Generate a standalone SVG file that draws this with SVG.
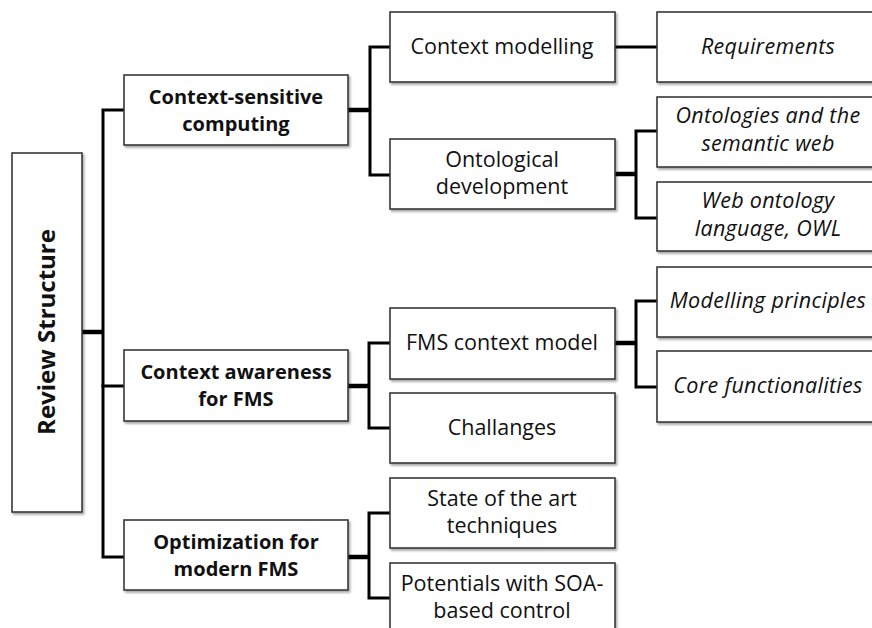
<svg xmlns="http://www.w3.org/2000/svg" width="872" height="628" viewBox="0 0 872 628">
  <defs>
    <filter id="shadow" x="-5%" y="-5%" width="115%" height="120%">
      <feDropShadow dx="1.5" dy="2" stdDeviation="1.2" flood-color="#000" flood-opacity="0.35"/>
    </filter>
  </defs>
  <style>
    .box { fill: #ffffff; stroke: #3a3a3a; stroke-width: 1.6; filter: url(#shadow); }
    .wire { fill: none; stroke: #000; stroke-width: 3; stroke-linejoin: miter; stroke-linecap: square; }
    .stub { fill: none; stroke: #000; stroke-width: 4.5; }
    text { font-family: "Open Sans", "Liberation Sans", sans-serif; fill: #111; text-anchor: middle; }
    .root { font-size: 24px; font-weight: bold; }
    .l1 { font-size: 20px; font-weight: bold; }
    .l2 { font-size: 21.5px; }
    .l3 { font-size: 21.5px; font-style: italic; letter-spacing: 0.3px; }
  </style>

  <!-- connectors -->
  <g id="connectors">
    <!-- root to first level -->
    <line class="stub" x1="82" y1="332" x2="103" y2="332"/>
    <path class="wire" d="M124 110 H103 V557 H124"/>
    <line class="wire" x1="103" y1="386" x2="124" y2="386"/>
    <!-- Context-sensitive computing -->
    <line class="stub" x1="348" y1="110" x2="370" y2="110"/>
    <path class="wire" d="M390 47 H370 V175 H390"/>
    <!-- Context awareness for FMS -->
    <line class="stub" x1="348" y1="386" x2="369" y2="386"/>
    <path class="wire" d="M390 343 H369 V428 H390"/>
    <!-- Optimization for modern FMS -->
    <line class="stub" x1="348" y1="557" x2="369" y2="557"/>
    <path class="wire" d="M390 513 H369 V598 H390"/>
    <!-- Context modelling -->
    <line class="wire" x1="615" y1="47" x2="657" y2="47"/>
    <!-- Ontological development -->
    <line class="stub" x1="615" y1="174" x2="636" y2="174"/>
    <path class="wire" d="M657 131 H636 V218 H657"/>
    <!-- FMS context model -->
    <line class="stub" x1="615" y1="343" x2="636" y2="343"/>
    <path class="wire" d="M657 301 H636 V387 H657"/>
  </g>

  <!-- root -->
  <g id="review-structure">
    <rect class="box" x="12" y="153" width="70" height="359"/>
    <text class="root" transform="translate(55 332) rotate(-90)">Review Structure</text>
  </g>

  <!-- first level -->
  <g id="context-sensitive-computing">
    <rect class="box" x="124" y="75" width="224" height="70"/>
    <text class="l1" x="236" y="104">Context-sensitive</text>
    <text class="l1" x="236" y="131">computing</text>
  </g>
  <g id="context-awareness">
    <rect class="box" x="124" y="350" width="224" height="71"/>
    <text class="l1" x="236" y="379">Context awareness</text>
    <text class="l1" x="236" y="406">for FMS</text>
  </g>
  <g id="optimization">
    <rect class="box" x="124" y="520" width="224" height="70"/>
    <text class="l1" x="236" y="549">Optimization for</text>
    <text class="l1" x="236" y="576">modern FMS</text>
  </g>

  <!-- second level -->
  <g id="context-modelling">
    <rect class="box" x="390" y="12" width="225" height="70"/>
    <text class="l2" x="502" y="54">Context modelling</text>
  </g>
  <g id="ontological-development">
    <rect class="box" x="390" y="139" width="225" height="70"/>
    <text class="l2" x="502" y="167">Ontological</text>
    <text class="l2" x="502" y="194">development</text>
  </g>
  <g id="fms-context-model">
    <rect class="box" x="390" y="308" width="225" height="71"/>
    <text class="l2" x="502" y="350">FMS context model</text>
  </g>
  <g id="challanges">
    <rect class="box" x="390" y="393" width="225" height="70"/>
    <text class="l2" x="502" y="435">Challanges</text>
  </g>
  <g id="state-of-the-art">
    <rect class="box" x="390" y="478" width="225" height="70"/>
    <text class="l2" x="502" y="506">State of the art</text>
    <text class="l2" x="502" y="533">techniques</text>
  </g>
  <g id="potentials-soa">
    <rect class="box" x="390" y="563" width="225" height="80"/>
    <text class="l2" x="502" y="591">Potentials with SOA-</text>
    <text class="l2" x="502" y="618">based control</text>
  </g>

  <!-- third level -->
  <g id="requirements">
    <rect class="box" x="657" y="12" width="230" height="70"/>
    <text class="l3" x="768" y="54">Requirements</text>
  </g>
  <g id="ontologies-semantic-web">
    <rect class="box" x="657" y="97" width="230" height="70"/>
    <text class="l3" x="768" y="123">Ontologies and the</text>
    <text class="l3" x="768" y="151">semantic web</text>
  </g>
  <g id="web-ontology-language">
    <rect class="box" x="657" y="182" width="230" height="69"/>
    <text class="l3" x="768" y="208">Web ontology</text>
    <text class="l3" x="768" y="236">language, OWL</text>
  </g>
  <g id="modelling-principles">
    <rect class="box" x="657" y="267" width="230" height="70"/>
    <text class="l3" x="768" y="308">Modelling principles</text>
  </g>
  <g id="core-functionalities">
    <rect class="box" x="657" y="351" width="230" height="71"/>
    <text class="l3" x="768" y="393">Core functionalities</text>
  </g>
</svg>
